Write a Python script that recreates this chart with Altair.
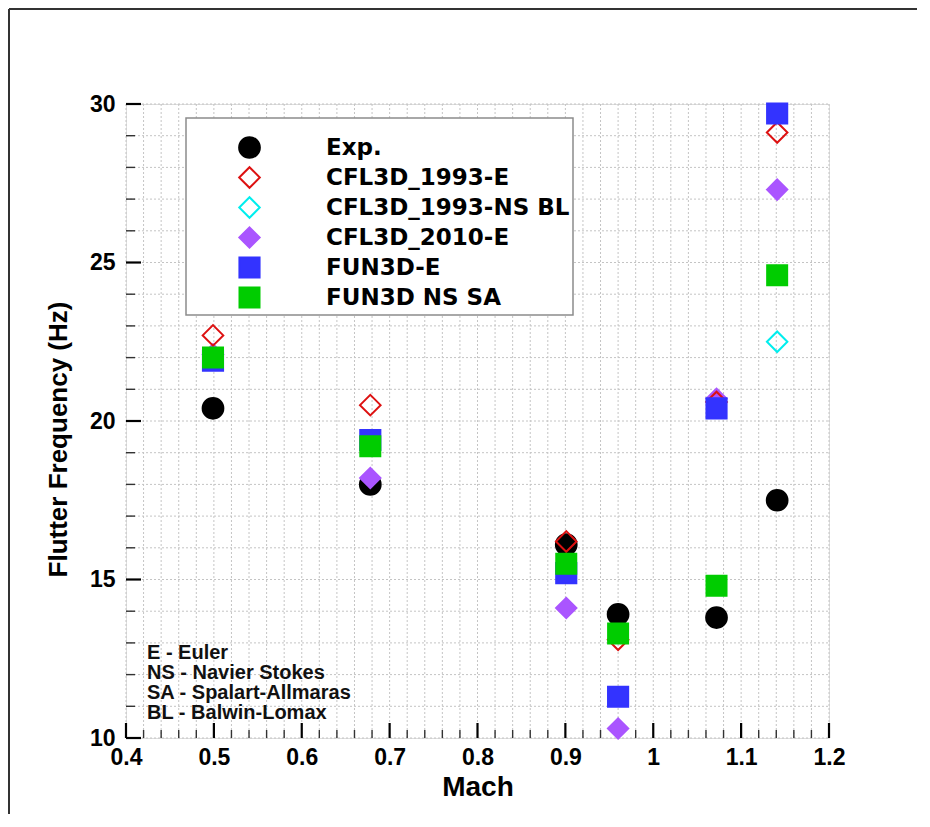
import altair as alt
import pandas as pd

# ---- data ----
mach = [0.499, 0.678, 0.901, 0.960, 1.072, 1.141]
exp_freq = [20.4, 18.0, 16.1, 13.9, 13.8, 17.5]
cfl3d_1993_e = [22.7, 20.5, 16.2, 13.1, 20.6, 29.1]
cfl3d_1993_ns_bl = [None, None, None, None, None, 22.5]
cfl3d_2010_e = [22.1, 18.2, 14.1, 10.3, 20.7, 27.3]
fun3d_e = [21.9, 19.4, 15.2, 11.3, 20.4, 29.7]
fun3d_ns_sa = [22.0, 19.2, 15.5, 13.3, 14.8, 24.6]

series_names = ["Exp.", "CFL3D_1993-E", "CFL3D_1993-NS BL", "CFL3D_2010-E", "FUN3D-E", "FUN3D NS SA"]
series_values = [exp_freq, cfl3d_1993_e, cfl3d_1993_ns_bl, cfl3d_2010_e, fun3d_e, fun3d_ns_sa]
draw_order = [0, 3, 1, 2, 4, 5]  # stacking order of the markers

shapes = ["circle", "diamond", "diamond", "diamond", "square", "square"]
strokes = ["black", "#dd1111", "#00eeee", "#aa55ff", "#3333ff", "#00cc00"]
fills = ["black", "transparent", "transparent", "#aa55ff", "#3333ff", "#00cc00"]
sizes = [430, 400, 400, 400, 216, 216]

x_major = [0.4, 0.5, 0.6, 0.7, 0.8, 0.9, 1.0, 1.1, 1.2]
x_minor_all = [round(0.4 + 0.02 * i, 2) for i in range(41)]
y_major = [10, 15, 20, 25, 30]
y_minor_all = list(range(10, 31))

notes = ["E - Euler", "NS - Navier Stokes", "SA - Spalart-Allmaras", "BL - Balwin-Lomax"]

rows = []
for i in draw_order:
    name, vals = series_names[i], series_values[i]
    for m, v in zip(mach, vals):
        if v is not None:
            rows.append({"Mach": m, "Freq": v, "Series": name})
df = pd.DataFrame(rows)

FONT = "Liberation Sans"
W, H = 703, 634
GRID = "#c4c4c4"

xscale = alt.Scale(domain=[0.4, 1.2], nice=False, zero=False)
yscale = alt.Scale(domain=[10, 30], nice=False, zero=False)

xaxis = alt.Axis(
    values=x_major, format="~g",
    grid=False, ticks=False, domain=False,
    labelFont=FONT, labelFontSize=23, labelFontWeight="bold", labelColor="black",
    labelPadding=8, labelOverlap=False, labelFlush=False,
    title="Mach", titleFont=FONT, titleFontSize=28, titleFontWeight="bold",
    titleColor="black", titleY=49, titleBaseline="middle",
)
yaxis = alt.Axis(
    values=y_major, format="d",
    grid=False, ticks=False, domain=False,
    labelFont=FONT, labelFontSize=23, labelFontWeight="bold", labelColor="black",
    labelPadding=11, labelOverlap=False, labelFlush=False,
    title="Flutter Frequency (Hz)", titleFont=FONT, titleFontSize=26,
    titleFontWeight="bold", titleColor="black",
    titleX=-68, titleY=335, titleAngle=270, titleBaseline="middle", titleAlign="center",
)


def X():
    return alt.X("Mach:Q", scale=xscale, axis=xaxis, title="Mach")


def Y():
    return alt.Y("Freq:Q", scale=yscale, axis=yaxis, title="Flutter Frequency (Hz)")


legend_title = "\u00a0"

points = alt.Chart(df).mark_point(filled=True, strokeWidth=2, opacity=1).encode(
    x=X(),
    y=Y(),
    stroke=alt.Stroke("Series:N", scale=alt.Scale(domain=series_names, range=strokes), title=legend_title),
    fill=alt.Fill("Series:N", scale=alt.Scale(domain=series_names, range=fills), title=legend_title),
    shape=alt.Shape("Series:N", scale=alt.Scale(domain=series_names, range=shapes), title=legend_title),
    size=alt.Size("Series:N", scale=alt.Scale(domain=series_names, range=sizes), title=legend_title),
)

# grid lines (dotted)
x_grid_df = pd.DataFrame({"Mach": x_minor_all})
y_grid_df = pd.DataFrame({"Freq": y_minor_all})
x_grid = alt.Chart(x_grid_df).mark_rule(color=GRID, strokeWidth=1, strokeDash=[2, 2]).encode(
    x=X(), y=alt.value(0), y2=alt.value(H))
y_grid = alt.Chart(y_grid_df).mark_rule(color=GRID, strokeWidth=1, strokeDash=[2, 2]).encode(
    y=Y(), x=alt.value(0), x2=alt.value(W))

# inward ticks
x_major_df = pd.DataFrame({"Mach": x_major})
x_minor_df = pd.DataFrame({"Mach": [v for v in x_minor_all if all(abs(v - m) > 1e-6 for m in x_major)]})
y_major_df = pd.DataFrame({"Freq": y_major})
y_minor_df = pd.DataFrame({"Freq": [v for v in y_minor_all if v % 5 != 0]})

xt_major = alt.Chart(x_major_df).mark_rule(color="black", strokeWidth=2.2).encode(
    x=X(), y=alt.value(H), y2=alt.value(H - 15))
xt_minor = alt.Chart(x_minor_df).mark_rule(color="#333333", strokeWidth=1.4).encode(
    x=X(), y=alt.value(H), y2=alt.value(H - 8))
yt_major = alt.Chart(y_major_df).mark_rule(color="black", strokeWidth=2.2).encode(
    y=Y(), x=alt.value(0), x2=alt.value(15))
yt_minor = alt.Chart(y_minor_df).mark_rule(color="#333333", strokeWidth=1.4).encode(
    y=Y(), x=alt.value(0), x2=alt.value(9))

notes_df = pd.DataFrame({"t": [notes]})
note_text = alt.Chart(notes_df).mark_text(
    align="left", baseline="top", font=FONT, fontSize=20, fontWeight="bold",
    color="#111111", lineHeight=20.1,
).encode(text="t", x=alt.value(21), y=alt.value(539))

frame_df = alt.Data(values=[{}])
frame_left = alt.Chart(frame_df).mark_rule(color="#333333", strokeWidth=2).encode(
    x=alt.value(-117), y=alt.value(-95), y2=alt.value(H + 100))
frame_top = alt.Chart(frame_df).mark_rule(color="#333333", strokeWidth=2).encode(
    y=alt.value(-95), x=alt.value(-117), x2=alt.value(W + 88))

chart = alt.layer(
    x_grid, y_grid, xt_minor, xt_major, yt_minor, yt_major, note_text, points, frame_left, frame_top
).properties(
    width=W, height=H,
    autosize=alt.AutoSizeParams(type="none"),
    padding={"left": 118, "top": 96, "right": 90, "bottom": 76},
).configure_view(
    stroke="black", strokeWidth=3, fill="white"
).configure(
    background="white"
).configure_legend(
    orient="none", legendX=60, legendY=14,
    padding=3, fillColor="white", strokeColor="#8c8c8c", strokeWidth=1.5,
    labelFont="DejaVu Sans", labelFontSize=23, labelFontWeight="bold", labelColor="black",
    labelLimit=500, labelOffset=65, symbolOffset=49, rowPadding=1,
    symbolOpacity=1, symbolStrokeWidth=2,
    titleFont=FONT, titleFontSize=15, titlePadding=0, titleLimit=2000,
)

chart.save("out.html", embed_options={"renderer": "svg", "actions": False})
